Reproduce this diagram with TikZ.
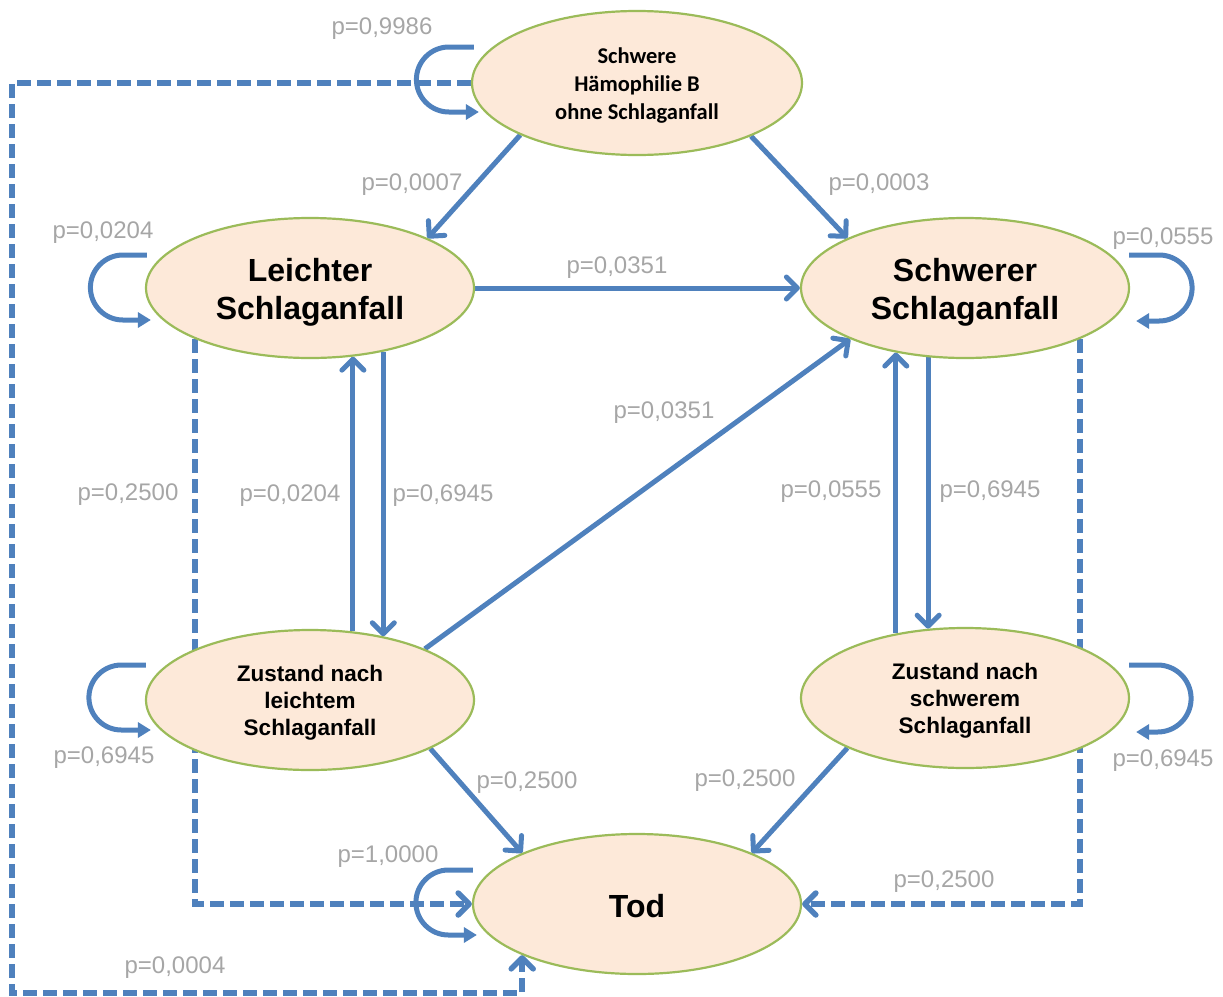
\documentclass[tikz,border=0pt]{standalone}
\usepackage{fontspec}
\setmainfont{Liberation Sans}
\setsansfont{Liberation Sans}
\newfontfamily\calib{Carlito}
\usetikzlibrary{shapes.geometric,arrows.meta,backgrounds}
\definecolor{cblue}{HTML}{4F81BD}
\definecolor{cgreen}{HTML}{9BBB59}
\definecolor{cfill}{HTML}{FDE9D9}
\definecolor{cgray}{HTML}{A6A6A6}
\tikzset{
  state/.style={ellipse, draw=cgreen, line width=2.2pt, fill=cfill, inner sep=0pt,
    minimum width=328pt, minimum height=140pt},
  stxt/.style={align=center, text=black, inner sep=0pt},
  bigtxt/.style={stxt, font=\fontsize{32}{38}\selectfont\bfseries},
  midtxt/.style={stxt, font=\fontsize{22.5}{27}\selectfont\bfseries},
  toptxt/.style={stxt, font=\calib\fontsize{22.5}{28}\selectfont\bfseries},
  conn/.style={draw=cblue, line width=5pt, -{Straight Barb[length=11pt,width=22pt,round]}},
  dconn/.style={draw=cblue, line width=5.5pt, dash pattern=on 14pt off 6pt,
    -{Straight Barb[length=11pt,width=22pt,round]}},
  loopc/.style={draw=cblue, line width=5pt, -{Triangle[length=13pt,width=15pt]}},
  prob/.style={text=cgray, font=\fontsize{24}{28}\selectfont, inner sep=0pt, yshift=-3pt},
}
\begin{document}
\begin{tikzpicture}[x=1pt,y=1pt]
\useasboundingbox (0,0) rectangle (1223,-996);
% nodes
\node[state, minimum width=330pt, minimum height=144pt] (top) at (637,-83) {};
\node[state] (leicht) at (310,-288) {};
\node[state] (schwer) at (965,-288) {};
\node[state] (zl) at (310,-700) {};
\node[state] (zs) at (965,-698) {};
\node[state] (tod) at (637,-904) {};
\node[toptxt] (top-t) at ([yshift=-3pt]top.center) {Schwere\\Hämophilie B\\ohne Schlaganfall};
\node[bigtxt] (leicht-t) at ([yshift=-4pt]leicht.center) {Leichter\\Schlaganfall};
\node[bigtxt] (schwer-t) at ([yshift=-4pt]schwer.center) {Schwerer\\Schlaganfall};
\node[midtxt] (zl-t) at ([yshift=-3pt]zl.center) {Zustand nach\\leichtem\\Schlaganfall};
\node[midtxt] (zs-t) at ([yshift=-3pt]zs.center) {Zustand nach\\schwerem\\Schlaganfall};
\node[bigtxt] (tod-t) at ([yshift=-2pt]tod.center) {Tod};
\coordinate (c2) at (12,-993);
% connectors
\begin{scope}[on background layer]
\draw[conn] (top.204) -- (leicht.23);
\draw[conn] (top.335) -- (schwer.157);
\draw[conn] (leicht.east) -- (schwer.west);
\draw[conn] (zl.24) -- (schwer.204);
\draw[conn] (zl.58) -- (leicht.302);
\draw[conn] (leicht.319) -- (zl.41);
\draw[conn] (zs.137) -- (schwer.223);
\draw[conn] (schwer.242) -- (zs.118);
\draw[conn] (zl.338) -- (tod.156);
\draw[conn] (zs.203) -- (tod.24);
\draw[dconn] (leicht.204) |- (tod.west);
\draw[dconn] (schwer.336) |- (tod.east);
\draw[dconn] (top.west) -| (c2) -| (tod.204);
% self loops
\draw[loopc] ([shift={(3pt,36pt)}]top.west) -- ++(-25pt,0) arc[start angle=90,end angle=270,radius=32.5pt] -- ++(30pt,0);
\draw[loopc] ([shift={(2pt,33pt)}]leicht.west) -- ++(-24pt,0) arc[start angle=90,end angle=270,radius=32.5pt] -- ++(28pt,0);
\draw[loopc] ([shift={(-1pt,33pt)}]schwer.east) -- ++(30pt,0) arc[start angle=90,end angle=-90,radius=33pt] -- ++(-23pt,0);
\draw[loopc] ([shift={(1pt,35pt)}]zl.west) -- ++(-24.5pt,0) arc[start angle=90,end angle=270,radius=32.5pt] -- ++(29.5pt,0);
\draw[loopc] ([shift={(-1pt,33pt)}]zs.east) -- ++(28.5pt,0) arc[start angle=90,end angle=-90,radius=33.5pt] -- ++(-21.5pt,0);
\draw[loopc] ([shift={(1pt,34pt)}]tod.west) -- ++(-24.5pt,0) arc[start angle=90,end angle=270,radius=32.5pt] -- ++(28.5pt,0);
\end{scope}
% labels
\node[prob] (l1) at (382,-26) {p=0,9986};
\node[prob] (l2) at (412,-182) {p=0,0007};
\node[prob] (l3) at (879,-182) {p=0,0003};
\node[prob] (l4) at (103,-230) {p=0,0204};
\node[prob] (l5) at (1163,-236) {p=0,0555};
\node[prob] (l6) at (617,-265) {p=0,0351};
\node[prob] (l7) at (664,-410) {p=0,0351};
\node[prob] (l8) at (128,-492) {p=0,2500};
\node[prob] (l9) at (290,-493) {p=0,0204};
\node[prob] (l10) at (443,-493) {p=0,6945};
\node[prob] (l11) at (831,-489) {p=0,0555};
\node[prob] (l12) at (990,-489) {p=0,6945};
\node[prob] (l13) at (104,-755) {p=0,6945};
\node[prob] (l14) at (1163,-758) {p=0,6945};
\node[prob] (l15) at (527,-780) {p=0,2500};
\node[prob] (l16) at (745,-778) {p=0,2500};
\node[prob] (l17) at (388,-854) {p=1,0000};
\node[prob] (l18) at (944,-879) {p=0,2500};
\node[prob] (l19) at (175,-965) {p=0,0004};
\end{tikzpicture}
\end{document}
